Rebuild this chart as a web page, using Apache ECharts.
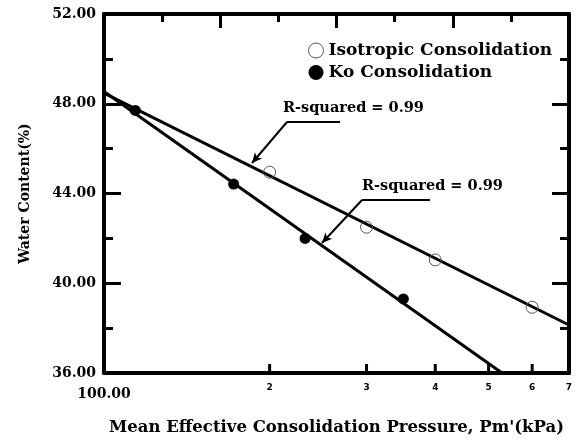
<!DOCTYPE html>
<html>
<head>
<meta charset="utf-8">
<script src="https://cdn.jsdelivr.net/npm/echarts@6/dist/echarts.min.js"></script>
<style>
html,body{margin:0;padding:0;background:#fff;}
#chart{width:577px;height:444px;}
</style>
</head>
<body>
<div id="chart"></div>
<script>
// ---- data ----
var isoPoints = [[200, 44.95], [300, 42.5], [400, 41.04], [600, 38.93]];
var koPoints = [[114, 47.70], [172, 44.42], [232, 42.0], [350, 39.3]];
var isoFit = [[100, 48.47], [700, 38.14]];
var koFit = [[100, 48.55], [529, 36.0]];
var xTickValues = [200, 300, 400, 500, 600];
var xLabelValues = [100, 200, 300, 400, 500, 600, 700];
var xTickLabels = ['100.00', '2', '3', '4', '5', '6', '7'];
var seriesNames = ['Isotropic Consolidation', 'Ko Consolidation'];
var annotationText = 'R-squared = 0.99';

var SERIF = 'DejaVu Serif';
var Y_MIN = 36, TICK_H = 0.4;
var chart = echarts.init(document.getElementById('chart'), null, {renderer: 'canvas'});

var tickSeries = xTickValues.map(function (v, i) {
  return {
    name: 'xtick' + i, type: 'line', xAxisIndex: 0, yAxisIndex: 0,
    data: [[v, Y_MIN], [v, Y_MIN + TICK_H]],
    showSymbol: false, symbol: 'none', silent: true,
    lineStyle: {color: '#000', width: 3}, z: 5
  };
});

var option = {
  backgroundColor: '#fff',
  animation: false,
  grid: {left: 104, right: 8, top: 14, bottom: 71, containLabel: false},
  legend: {
    orient: 'vertical', left: 303, top: 37, itemWidth: 15, itemHeight: 15, itemGap: 5,
    textStyle: {fontFamily: SERIF, fontSize: 17, fontWeight: 'bold', color: '#000'},
    data: [
      {name: seriesNames[0], icon: 'circle', itemStyle: {color: '#fff', borderColor: '#555', borderWidth: 1}},
      {name: seriesNames[1], icon: 'circle', itemStyle: {color: '#000'}}
    ]
  },
  xAxis: [{
    type: 'log', logBase: 10, min: 100, max: 700,
    name: "Mean Effective Consolidation Pressure, Pm'(kPa)",
    nameLocation: 'middle', nameGap: 46,
    nameTextStyle: {fontFamily: SERIF, fontSize: 16.5, fontWeight: 'bold', color: '#000'},
    axisLine: {show: true, lineStyle: {color: '#000', width: 4}},
    axisTick: {show: false},
    minorTick: {show: false},
    splitLine: {show: false},
    axisLabel: {
      show: true, margin: 8, customValues: xLabelValues,
      formatter: function (v) {
        var i = xLabelValues.indexOf(Math.round(v));
        if (i < 0) return '';
        return i === 0 ? '{big|' + xTickLabels[i] + '}' : '{small|' + xTickLabels[i] + '}';
      },
      rich: {
        big: {fontFamily: SERIF, fontSize: 14, fontWeight: 'bold', lineHeight: 26, color: '#000'},
        small: {fontFamily: 'DejaVu Sans', fontSize: 9, fontWeight: 'bold', lineHeight: 14, color: '#000'}
      }
    }
  }, {
    type: 'value', position: 'top', min: 0, max: 8, interval: 2,
    axisLine: {show: true, lineStyle: {color: '#000', width: 4}},
    axisTick: {show: true, inside: true, length: 14, lineStyle: {color: '#000', width: 3}},
    minorTick: {show: true, splitNumber: 2, length: 8, lineStyle: {color: '#000', width: 3}},
    axisLabel: {show: false},
    splitLine: {show: false}
  }],
  yAxis: [{
    type: 'value', min: 36, max: 52, interval: 4, position: 'left',
    name: 'Water Content(%)', nameLocation: 'middle', nameGap: 72,
    nameTextStyle: {fontFamily: SERIF, fontSize: 14, fontWeight: 'bold', color: '#000'},
    axisLine: {show: true, lineStyle: {color: '#000', width: 4}},
    axisTick: {show: true, inside: true, length: 17, lineStyle: {color: '#000', width: 3}},
    minorTick: {show: true, splitNumber: 2, length: 9, lineStyle: {color: '#000', width: 3}},
    splitLine: {show: false},
    axisLabel: {margin: 8, fontFamily: SERIF, fontSize: 14, fontWeight: 'bold', color: '#000',
      formatter: function (v) { return v.toFixed(2); }}
  }, {
    type: 'value', min: 36, max: 52, interval: 4, position: 'right',
    axisLine: {show: true, lineStyle: {color: '#000', width: 4}},
    axisTick: {show: true, inside: true, length: 17, lineStyle: {color: '#000', width: 3}},
    minorTick: {show: true, splitNumber: 2, length: 9, lineStyle: {color: '#000', width: 3}},
    splitLine: {show: false},
    axisLabel: {show: false}
  }],
  series: [{
    name: 'isoFit', type: 'line', xAxisIndex: 0, yAxisIndex: 0, data: isoFit,
    showSymbol: false, symbol: 'none', lineStyle: {color: '#000', width: 3}, z: 2,
    markLine: {
      silent: true, symbol: ['none', 'none'], label: {show: false},
      lineStyle: {color: '#000', width: 2, type: 'solid'},
      data: [
        [{x: 340, y: 122}, {x: 287, y: 122}],
        [{x: 430, y: 200}, {x: 362, y: 200}]
      ]
    }
  }, {
    name: 'koFit', type: 'line', xAxisIndex: 0, yAxisIndex: 0, data: koFit,
    showSymbol: false, symbol: 'none', lineStyle: {color: '#000', width: 3}, z: 2,
    markLine: {
      silent: true, symbol: ['none', 'arrow'], symbolSize: [7, 10], label: {show: false},
      lineStyle: {color: '#000', width: 2, type: 'solid'},
      data: [
        [{x: 287, y: 122}, {x: 252, y: 163}],
        [{x: 362, y: 200}, {x: 322, y: 243}]
      ]
    }
  }, {
    name: seriesNames[0], type: 'scatter', xAxisIndex: 0, yAxisIndex: 0, data: isoPoints,
    symbol: 'circle', symbolSize: 12,
    itemStyle: {color: 'rgba(255,255,255,0)', borderColor: '#555', borderWidth: 1, opacity: 1}, z: 3
  }, {
    name: seriesNames[1], type: 'scatter', xAxisIndex: 0, yAxisIndex: 0, data: koPoints,
    symbol: 'circle', symbolSize: 11,
    itemStyle: {color: '#000', opacity: 1}, z: 3
  }].concat(tickSeries),
  graphic: [
    {type: 'text', left: 283, top: 101, style: {text: annotationText, fontFamily: SERIF, fontSize: 14.5, fontWeight: 'bold', fill: '#000'}},
    {type: 'text', left: 362, top: 179, style: {text: annotationText, fontFamily: SERIF, fontSize: 14.5, fontWeight: 'bold', fill: '#000'}}
  ]
};
chart.setOption(option);
</script>
</body>
</html>
